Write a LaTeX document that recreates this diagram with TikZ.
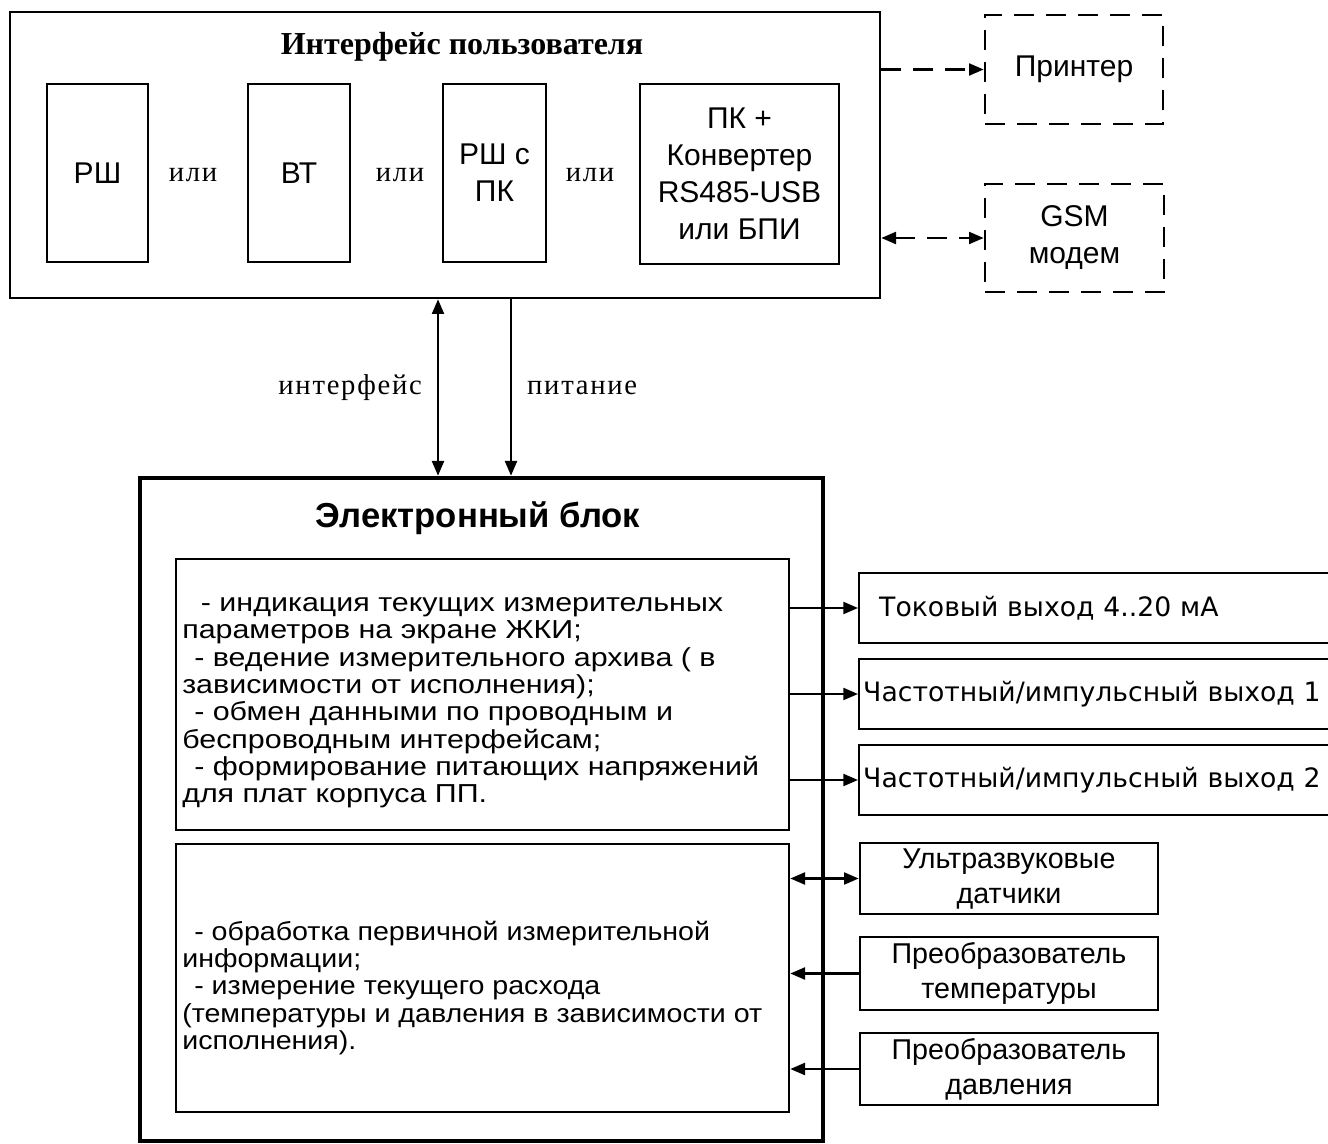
\documentclass[tikz,border=0pt]{standalone}
\usepackage{fontspec}
\setmainfont{Liberation Sans}
\newfontfamily\bodyfont[FakeStretch=1.17]{Liberation Sans}
\newfontfamily\procfont[FakeStretch=1.10]{Liberation Sans}
\newfontfamily\outfont{DejaVu Sans}
\newfontfamily\labfont[LetterSpace=6]{Liberation Serif}
\newfontfamily\headfont{Liberation Serif}
\usetikzlibrary{arrows.meta}

\begin{document}
\begin{tikzpicture}[x=0.75pt, y=-0.75pt,
  >={Triangle[length=11pt,width=9pt]},
  sz/.style 2 args={minimum width=#1*0.75pt, minimum height=#2*0.75pt},
  box/.style={draw, line width=2pt, inner sep=0pt, align=center, font=\fontsize{22.5}{27.75}\selectfont},
  dbox/.style={box, dash pattern=on 15pt off 9pt},
  fnbox/.style={draw, line width=2pt, inner sep=0pt},
  fntext/.style={inner sep=0pt, anchor=west, align=left, font=\bodyfont\fontsize{19.5}{20.5}\selectfont},
  outbox/.style={draw, line width=1.8pt, anchor=west, minimum height=52.5pt, inner ysep=0pt, text width=380pt, align=left, font=\outfont\fontsize{20}{22}\selectfont},
  senbox/.style={box, font=\fontsize{21.5}{26.25}\selectfont},
  lab/.style={font=\labfont\fontsize{21.5}{24}\selectfont},
  link/.style={line width=1.6pt}]
\useasboundingbox (0,0) rectangle (1328,1144);

% user interface
\node[box, sz={870}{286}] (ui) at (445,155) {};
\node[font=\headfont\bfseries\fontsize{24}{28}\selectfont] (uititle) at (462,47) {Интерфейс пользователя};
\node[box, sz={101}{178}] (rsh) at (97.5,173) {РШ};
\node[box, sz={102}{178}] (vt) at (299,173) {ВТ};
\node[box, sz={103}{178}] (rshpk) at (494.5,173) {РШ с\\ПК};
\node[box, sz={199}{180}] (pkconv) at (739.5,174) {ПК +\\Конвертер\\RS485-USB\\или БПИ};
\node[lab] (or1) at (193,175) {или};
\node[lab] (or2) at (400,175) {или};
\node[lab] (or3) at (590,175) {или};

\node[dbox, sz={178}{109}] (prn) at (1074,69.5) {Принтер};
\node[dbox, sz={179}{108}] (gsm) at (1074.5,238) {GSM\\модем};
\draw[link, dash pattern=on 15pt off 9pt, ->] (ui.east |- prn) -- (prn);
\draw[link, dash pattern=on 15pt off 9pt, <->] (ui.east |- gsm) -- (gsm);

% electronic block
\node[draw, line width=3.5pt, sz={683}{663}] (eb) at (481.5,809.5) {};
\node[font=\bfseries\fontsize{26}{30}\selectfont] (ebtitle) at (478,518) {Электронный блок};
\coordinate (ifx) at (438,0);
\coordinate (pwx) at (511,0);
\draw[link, <->] (ifx |- ui.south) -- (ifx |- eb.north) node[midway, left=8pt, lab] {интерфейс};
\draw[link, ->] (pwx |- ui.south) -- (pwx |- eb.north) node[midway, right=8pt, lab] {питание};

\node[fnbox, sz={613}{271}] (disp) at (482.5,694.5) {};
\node[fntext] (disptext) at (182,703) {\hspace*{14pt}- индикация текущих измерительных\\
параметров на экране ЖКИ;\\
\hspace*{9pt}- ведение измерительного архива ( в\\
зависимости от исполнения);\\
\hspace*{9pt}- обмен данными по проводным и\\
беспроводным интерфейсам;\\
\hspace*{9pt}- формирование питающих напряжений\\
для плат корпуса ПП.};
\node[fnbox, sz={613}{268}] (proc) at (482.5,978) {};
\node[fntext, font=\procfont\fontsize{19.5}{20.5}\selectfont] (proctext) at (182,988) {\hspace*{9pt}- обработка первичной измерительной\\
информации;\\
\hspace*{9pt}- измерение текущего расхода\\
(температуры и давления в зависимости от\\
исполнения).};

% outputs
\node[outbox, inner xsep=15pt] (curout) at (858,608) {Токовый выход 4..20 мА};
\node[outbox, inner xsep=3pt] (freq1) at (858,694) {Частотный/импульсный выход 1};
\node[outbox, inner xsep=3pt] (freq2) at (858,780) {Частотный/импульсный выход 2};
\draw[link, ->] (disp.east |- curout) -- (curout.west);
\draw[link, ->] (disp.east |- freq1) -- (freq1.west);
\draw[link, ->] (disp.east |- freq2) -- (freq2.west);

% sensors
\node[senbox, sz={298}{71}] (usens) at (1009,878.5) {Ультразвуковые\\датчики};
\node[senbox, sz={298}{73}] (tsens) at (1009,973.5) {Преобразователь\\температуры};
\node[senbox, sz={298}{72}] (psens) at (1009,1069) {Преобразователь\\давления};
\draw[link, <->] (proc.east |- usens) -- (usens);
\draw[link, ->] (tsens) -- (proc.east |- tsens);
\draw[link, ->] (psens) -- (proc.east |- psens);
\end{tikzpicture}
\end{document}
